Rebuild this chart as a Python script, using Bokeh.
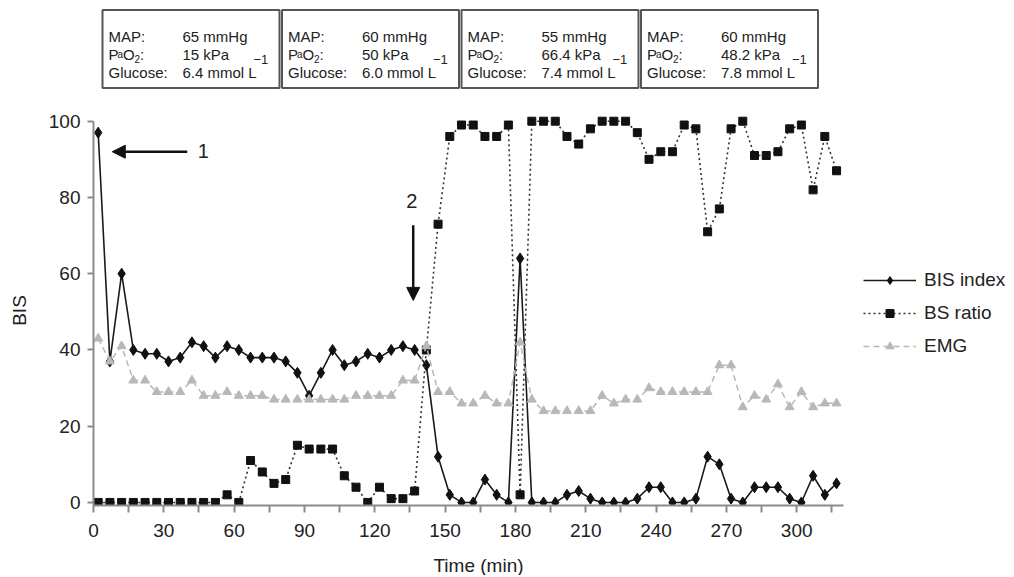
from bokeh.plotting import figure
from bokeh.layouts import column
from bokeh.models import (Range1d, FixedTicker, Legend, LegendItem, Arrow,
                          NormalHead, Label)
from bokeh.core.properties import value
from bokeh.embed import file_html
from bokeh.resources import INLINE

# ---------------- data ----------------
time_min = [2, 7, 12, 17, 22, 27, 32, 37, 42, 47, 52, 57, 62, 67, 72, 77,
            82, 87, 92, 97, 102, 107, 112, 117, 122, 127, 132, 137, 142, 147,
            152, 157, 162, 167, 172, 177, 182, 187, 192, 197, 202, 207, 212,
            217, 222, 227, 232, 237, 242, 247, 252, 257, 262, 267, 272, 277,
            282, 287, 292, 297, 302, 307, 312, 317]

bis_index = [97, 37, 60, 40, 39, 39, 37, 38, 42, 41, 38, 41, 40, 38, 38, 38,
             37, 34, 28, 34, 40, 36, 37, 39, 38, 40, 41, 40, 36, 12, 2, 0,
             0, 6, 2, 0, 64, 0, 0, 0, 2, 3, 1, 0, 0, 0, 1, 4,
             4, 0, 0, 1, 12, 10, 1, 0, 4, 4, 4, 1, 0, 7, 2, 5]

bs_ratio = [0, 0, 0, 0, 0, 0, 0, 0, 0, 0, 0, 2, 0, 11, 8, 5,
            6, 15, 14, 14, 14, 7, 4, 0, 4, 1, 1, 3, 40, 73, 96, 99,
            99, 96, 96, 99, 2, 100, 100, 100, 96, 94, 98, 100, 100, 100, 97, 90,
            92, 92, 99, 98, 71, 77, 98, 100, 91, 91, 92, 98, 99, 82, 96, 87]

emg = [43, 37, 41, 32, 32, 29, 29, 29, 32, 28, 28, 29, 28, 28, 28, 27,
       27, 27, 27, 27, 27, 27, 28, 28, 28, 28, 32, 32, 41, 29, 29, 26,
       26, 28, 26, 26, 42, 27, 24, 24, 24, 24, 24, 28, 26, 27, 27, 30,
       29, 29, 29, 29, 29, 36, 36, 25, 28, 27, 31, 25, 29, 25, 26, 26]

x_tick_labels = [0, 30, 60, 90, 120, 150, 180, 210, 240, 270, 300]
x_minor_ticks = [15, 45, 75, 105, 135, 165, 195, 225, 255, 285, 315]
y_tick_labels = [0, 20, 40, 60, 80, 100]

map_mmhg = ["65", "60", "55", "60"]
pao2_kpa = ["15", "50", "66.4", "48.2"]
glucose_mmol = ["6.4", "6.0", "7.4", "7.8"]

FONT = "Liberation Sans"
TXT = "#222222"
AX = "#8c8c8c"

LEFT = 93
FRAME_W = 919
PX_PER_MIN = 2.344


def blank_fig(height):
    f = figure(frame_width=FRAME_W, height=height,
               x_range=Range1d(0, FRAME_W), y_range=Range1d(height, 0),
               x_axis_location=None, y_axis_location=None, output_backend="svg",
               toolbar_location=None, min_border_left=LEFT, min_border_right=0,
               min_border_top=0, min_border_bottom=0)
    f.grid.visible = False
    f.outline_line_color = None
    return f


# ---------------- top boxes (pixel-like coordinates) ----------------
top = blank_fig(100)

box_w = 177
box_lefts = [9 + 179.5 * b for b in range(len(map_mmhg))]
top.quad(left=box_lefts, right=[l + box_w for l in box_lefts],
         top=[9.5] * len(box_lefts), bottom=[87.5] * len(box_lefts),
         fill_color=None, line_color="#555555", line_width=2)

bx, by, bt = [], [], []
sx_a, sy_a, st_a = [], [], []
sx_2, sy_2, st_2 = [], [], []
sx_s, sy_s, st_s = [], [], []
for b, l in enumerate(box_lefts):
    lx, vx = l + 6, l + 80
    bx += [lx, vx, lx, lx + 14.5, lx + 31.5, vx, lx, vx]
    by += [36, 36, 54, 54, 54, 54, 72, 72]
    bt += ["MAP:", map_mmhg[b] + " mmHg", "P", "O", ":", pao2_kpa[b] + " kPa",
           "Glucose:", glucose_mmol[b] + " mmol L"]
    sx_a.append(lx + 9); sy_a.append(54); st_a.append("a")
    sx_2.append(lx + 26); sy_2.append(58.5); st_2.append("2")
    sx_s.append(vx + 71); sy_s.append(58.5); st_s.append("\u22121")

top.text(x=bx, y=by, text=bt, text_font=value(FONT), text_font_size=value("15px"),
         text_color=TXT, text_baseline="alphabetic", text_align="left")
top.text(x=sx_a, y=sy_a, text=st_a, text_font=value(FONT), text_font_size=value("10px"),
         text_color=TXT, text_baseline="alphabetic", text_align="left")
top.text(x=sx_2, y=sy_2, text=st_2, text_font=value(FONT), text_font_size=value("10px"),
         text_color=TXT, text_baseline="alphabetic", text_align="left")
top.text(x=sx_s, y=sy_s, text=st_s, text_font=value(FONT), text_font_size=value("13px"),
         text_color=TXT, text_baseline="alphabetic", text_align="left")

# ---------------- main chart ----------------
p = figure(frame_width=FRAME_W, frame_height=390,
           x_range=Range1d(0, FRAME_W / PX_PER_MIN), y_range=Range1d(-0.8, 101.5),
           output_backend="svg", toolbar_location=None,
           min_border_left=LEFT, min_border_right=0,
           min_border_top=15, min_border_bottom=42)
p.grid.visible = False
p.outline_line_color = None

xa = p.xaxis[0]
xa.ticker = FixedTicker(ticks=x_tick_labels, minor_ticks=x_minor_ticks)
xa.bounds = (0, 320)
ya = p.yaxis[0]
ya.ticker = FixedTicker(ticks=y_tick_labels, minor_ticks=[])
ya.axis_label = "BIS"
ya.bounds = (-0.8, 100)

for ax in (xa, ya):
    ax.axis_line_color = AX
    ax.axis_line_width = 2
    ax.major_tick_line_color = AX
    ax.major_tick_line_width = 2
    ax.major_tick_in = 0
    ax.minor_tick_line_color = AX
    ax.minor_tick_line_width = 2
    ax.minor_tick_in = 0
    ax.major_label_text_font = FONT
    ax.major_label_text_font_size = "19px"
    ax.major_label_text_color = TXT
    ax.axis_label_text_font = FONT
    ax.axis_label_text_font_size = "19px"
    ax.axis_label_text_font_style = "normal"
    ax.axis_label_text_color = TXT
xa.major_tick_out = 7
xa.minor_tick_out = 7
xa.major_label_standoff = 11
ya.major_tick_out = 6
ya.major_label_standoff = 7
ya.axis_label_standoff = 16

r_bis_l = p.line(time_min, bis_index, line_color="#1a1a1a", line_width=1.6)
r_bis_m = p.scatter(time_min, bis_index, marker="diamond", size=11,
                    fill_color="#111111", line_color="#111111")
r_bs_l = p.line(time_min, bs_ratio, line_color="#333333", line_width=1.6, line_dash="2 3")
r_bs_m = p.scatter(time_min, bs_ratio, marker="square", size=8,
                   fill_color="#111111", line_color="#111111")
r_emg_l = p.line(time_min, emg, line_color="#b8b8b8", line_width=1.5, line_dash="6 4")
r_emg_m = p.scatter(time_min, emg, marker="triangle", size=9,
                    fill_color="#b8b8b8", line_color="#b8b8b8")

legend = Legend(items=[LegendItem(label="BIS index", renderers=[r_bis_l, r_bis_m]),
                       LegendItem(label="BS ratio", renderers=[r_bs_l, r_bs_m]),
                       LegendItem(label="EMG", renderers=[r_emg_l, r_emg_m])],
                location=(770, 148), glyph_width=53, glyph_height=20, label_height=20,
                spacing=11, label_standoff=8, padding=5, margin=0,
                border_line_color=None, background_fill_alpha=0,
                label_text_font=FONT, label_text_font_size="19px", label_text_color=TXT)
p.add_layout(legend)

p.add_layout(Arrow(x_start=40, y_start=92, x_end=8, y_end=92, line_width=2.5,
                   line_color="#111111",
                   end=NormalHead(size=13, fill_color="#111111", line_color="#111111")))
p.add_layout(Arrow(x_start=136.4, y_start=72.7, x_end=136.4, y_end=53, line_width=2.5,
                   line_color="#111111",
                   end=NormalHead(size=13, fill_color="#111111", line_color="#111111")))
p.add_layout(Label(x=46.8, y=92.3, text="1", text_align="center", text_baseline="middle",
                   text_font=FONT, text_font_size="20px", text_color=TXT))
p.add_layout(Label(x=135.8, y=79.1, text="2", text_align="center", text_baseline="middle",
                   text_font=FONT, text_font_size="20px", text_color=TXT))

# ---------------- x-axis title strip ----------------
bottom = blank_fig(28)
bottom.text(x=[385], y=[18], text=["Time (min)"], text_font=value(FONT),
            text_font_size=value("19px"), text_color=TXT,
            text_align="center", text_baseline="middle")

layout = column(top, p, bottom)
open("out.html", "w").write(file_html(layout, INLINE))
